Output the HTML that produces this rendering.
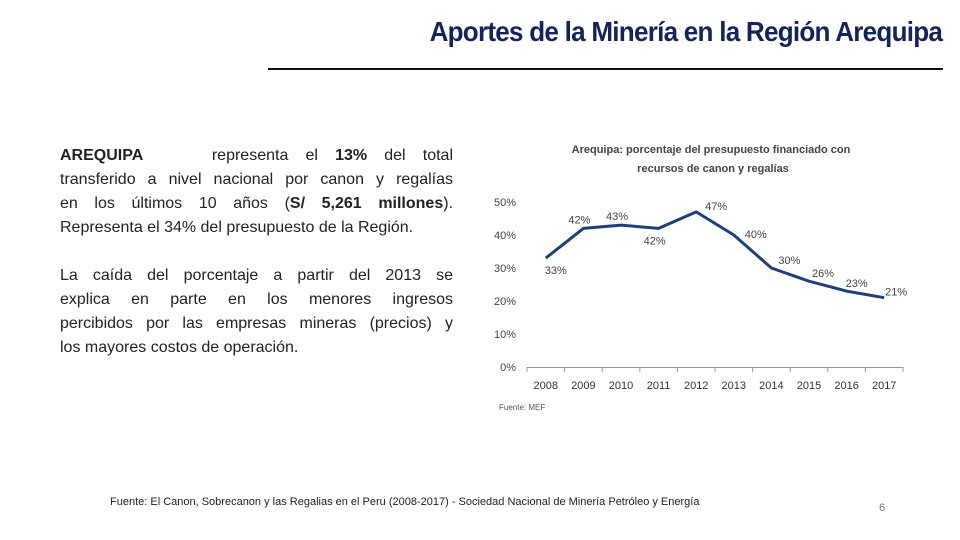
<!DOCTYPE html>
<html><head><meta charset="utf-8"><style>
body{margin:0;width:960px;height:540px;background:#fff;position:relative;overflow:hidden;font-family:"Liberation Sans",sans-serif}
#title{position:absolute;right:18px;top:16px;font-size:28px;font-weight:bold;color:#14235a;white-space:nowrap;transform:scaleX(0.93);transform-origin:right top;letter-spacing:-0.8px}
#rule{position:absolute;left:268px;top:68px;width:675px;height:2px;background:#111}
.para{position:absolute;left:60px;width:393px;font-size:16px;line-height:24px;color:#222}
.para div{text-align:justify;text-align-last:justify;white-space:nowrap;height:24px}
.para div.last{text-align-last:left}
#src{position:absolute;left:110px;top:496px;font-size:11px;color:#222}
#pg{position:absolute;left:879px;top:502px;font-size:11px;color:#777}
</style></head><body>
<div id="title">Aportes de la Minería en la Región Arequipa</div>
<div id="rule"></div>
<div class="para" style="top:144px">
<div><b>AREQUIPA</b> &nbsp;&nbsp;&nbsp;representa el <b>13%</b> del total</div>
<div>transferido a nivel nacional por canon y regalías</div>
<div>en los últimos 10 años (<b>S/ 5,261 millones</b>).</div>
<div class="last">Representa el 34% del presupuesto de la Región.</div>
</div>
<div class="para" style="top:264px">
<div>La caída del porcentaje a partir del 2013 se</div>
<div>explica en parte en los menores ingresos</div>
<div>percibidos por las empresas mineras (precios) y</div>
<div class="last">los mayores costos de operación.</div>
</div>
<svg id="chart" width="960" height="540" style="position:absolute;left:0;top:0"></svg>
<div id="src">Fuente: El Canon, Sobrecanon y las Regalias en el Peru (2008-2017) - Sociedad Nacional de Minería Petróleo y Energía</div>
<div id="pg">6</div>
<script>
const years=["2008","2009","2010","2011","2012","2013","2014","2015","2016","2017"];
const values=[33,42,43,42,47,40,30,26,23,21];
const valueLabels=["33%","42%","43%","42%","47%","40%","30%","26%","23%","21%"];
const yTicks=[0,10,20,30,40,50];
const lblDx=[10,-4,-4,-4,20,22,18,14,10,12];
const lblDy=[16,-5,-5,16,-2,3,-4,-4,-4,-2];
const svg=document.getElementById('chart');const NS="http://www.w3.org/2000/svg";
const x0=527,x1=903,y0=367,yTop=202;
const bw=(x1-x0)/years.length;
const X=i=>x0+bw*(i+0.5);
const Y=v=>y0-(v/50)*(y0-yTop);
function mk(t,a,txt){const e=document.createElementNS(NS,t);for(const k in a)e.setAttribute(k,a[k]);if(txt!==undefined)e.textContent=txt;svg.appendChild(e);return e;}
let e;
e=mk('text',{x:711,y:153,'text-anchor':'middle','font-size':11,'font-weight':'bold',fill:'#444'},'Arequipa: porcentaje del presupuesto financiado con');

e=mk('text',{x:713,y:172,'text-anchor':'middle','font-size':11,'font-weight':'bold',fill:'#444'},'recursos de canon y regalías');

yTicks.forEach(t=>{e=mk('text',{x:516,y:Y(t)+4,'text-anchor':'end','font-size':11,fill:'#444'},t+'%');
});
e=mk('line',{x1:x0,y1:y0+0.5,x2:x1,y2:y0+0.5,stroke:'#999','stroke-width':1});

for(let i=0;i<=years.length;i++){e=mk('line',{x1:x0+bw*i,y1:y0,x2:x0+bw*i,y2:y0+5,stroke:'#999','stroke-width':1});
}
years.forEach((y,i)=>{e=mk('text',{x:X(i),y:389,'text-anchor':'middle','font-size':11,fill:'#333'},y);
});
e=mk('polyline',{points:values.map((v,i)=>X(i)+','+Y(v)).join(' '),fill:'none',stroke:'#1f3f7a','stroke-width':3,'stroke-linejoin':'round'});

values.forEach((v,i)=>{e=mk('text',{x:X(i)+lblDx[i],y:Y(v)+lblDy[i],'text-anchor':'middle','font-size':11,fill:'#444'},valueLabels[i]);
});
e=mk('text',{x:499,y:410,'font-size':8,fill:'#555'},'Fuente: MEF');

</script>
</body></html>
